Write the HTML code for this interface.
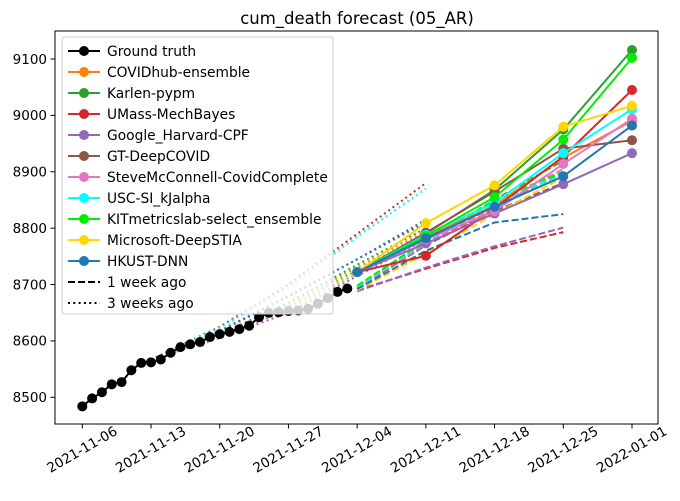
<!DOCTYPE html>
<html><head><meta charset="utf-8"><style>
body{margin:0;background:#fff}
svg text{font-family:"DejaVu Sans","Liberation Sans",sans-serif;fill:#000}
</style></head><body>
<svg id="chart" width="680" height="496" xmlns="http://www.w3.org/2000/svg">
<rect width="680" height="496" fill="#fff"/>
<text x="357" y="24" text-anchor="middle" font-size="16.5">cum_death forecast (05_AR)</text>
<g id="plot"></g>
<rect x="55" y="31" width="603" height="393" fill="none" stroke="#000" stroke-width="1"/>
<g id="axes"></g>
<g id="legend"></g>
</svg>
<script>
const xTickLabels=["2021-11-06","2021-11-13","2021-11-20","2021-11-27","2021-12-04","2021-12-11","2021-12-18","2021-12-25","2022-01-01"];
const xTickDays=[0,7,14,21,28,35,42,49,56];
const yTicks=[8500,8600,8700,8800,8900,9000,9100];
const truthValues=[8484,8498,8509,8523,8527,8548,8561,8562,8567,8579,8589,8594,8598,8607,8612,8616,8621,8627,8642,8650,8651,8653,8654,8657,8666,8676,8687,8693];
const modelNames=["COVIDhub-ensemble","Karlen-pypm","UMass-MechBayes","Google_Harvard-CPF","GT-DeepCOVID","SteveMcConnell-CovidComplete","USC-SI_kJalpha","KITmetricslab-select_ensemble","Microsoft-DeepSTIA","HKUST-DNN"];
const modelColors=["#ff7f0e","#2ca02c","#d62728","#9467bd","#8c564b","#e377c2","#00ffff","#00ee00","#ffd700","#1f77b4"];
const forecastDays=[28,35,42,49,56];
const forecastValues=[
[8722,8785,8840,8925,8990],
[8722,8790,8868,8975,9116],
[8722,8751,8835,8927,9045],
[8722,8773,8826,8878,8933],
[8722,8792,8865,8941,8956],
[8722,8780,8830,8914,8994],
[8722,8788,8845,8933,9011],
[8722,8786,8855,8957,9102],
[8722,8809,8876,8980,9017],
[8722,8782,8838,8892,8982]];
const dashDays=[28,35,42,49];
const dashValues=[
[8695,8770,8835,8900],
[8697,8775,8850,8920],
[8690,8728,8765,8793],
[8688,8730,8768,8801],
[8693,8770,8830,8880],
[8694,8772,8840,8905],
[8696,8775,8845,8895],
[8698,8778,8850,8900],
[8690,8755,8825,8890],
[8692,8760,8810,8825]];
const dotDays=[7,14,21,28,35];
const dotValues=[
[8567,8610,8665,8730,8795],
[8567,8612,8668,8735,8800],
[8567,8625,8700,8790,8880],
[8567,8605,8650,8715,8780],
[8567,8618,8680,8745,8810],
[8567,8607,8655,8720,8785],
[8567,8623,8695,8785,8870],
[8567,8610,8660,8725,8790],
[8567,8608,8658,8722,8790],
[8567,8617,8678,8745,8815]];

const NS="http://www.w3.org/2000/svg";
function X(d){return 82.3+d*(632-82.3)/56;}
function Y(v){return 397.3-(v-8500)*(397.3-59)/600;}
function mk(tag,attrs,parent){const e=document.createElementNS(NS,tag);for(const k in attrs)e.setAttribute(k,attrs[k]);parent.appendChild(e);return e;}
const plot=document.getElementById('plot'),axes=document.getElementById('axes'),leg=document.getElementById('legend');
function pts(days,vals){return days.map((d,i)=>X(d).toFixed(1)+','+Y(vals[i]).toFixed(1)).join(' ');}

modelNames.forEach((n,i)=>{
  const l=mk('polyline',{points:pts(dotDays,dotValues[i]),fill:'none',stroke:modelColors[i],'stroke-width':2,'stroke-dasharray':'2,3.3'},plot);
  
  
});
const gt=mk('polyline',{points:pts(truthValues.map((v,i)=>i),truthValues),fill:'none',stroke:'#000','stroke-width':2},plot);


truthValues.forEach((v,i)=>{
  const c=mk('circle',{cx:X(i),cy:Y(v),r:5,fill:'#000'},plot);
  
  
});
modelNames.forEach((n,i)=>{
  const l=mk('polyline',{points:pts(dashDays,dashValues[i]),fill:'none',stroke:modelColors[i],'stroke-width':2,'stroke-dasharray':'7,3'},plot);
  
  
});
modelNames.forEach((n,i)=>{
  const l=mk('polyline',{points:pts(forecastDays,forecastValues[i]),fill:'none',stroke:modelColors[i],'stroke-width':2},plot);
  
  
  forecastValues[i].forEach((v,j)=>{
    const c=mk('circle',{cx:X(forecastDays[j]),cy:Y(v),r:5,fill:modelColors[i]},plot);
    
    
  });
});
yTicks.forEach(v=>{
  const y=Y(v);
  const t=mk('line',{x1:55,x2:50.5,y1:y,y2:y,stroke:'#000'},axes);
  
  
  const tx=mk('text',{x:47,y:y+4.8,'text-anchor':'end','font-size':13.5},axes);
  tx.textContent=v;
  
  
});
xTickDays.forEach((d,i)=>{
  const x=X(d);
  const t=mk('line',{x1:x,x2:x,y1:424,y2:428.5,stroke:'#000'},axes);
  
  
  const tx=mk('text',{x:x,y:454,'text-anchor':'middle','font-size':13.5,transform:'rotate(-30 '+x+' 450)'},axes);
  tx.textContent=xTickLabels[i];
  
  
});
const lb=mk('rect',{x:62,y:37,width:271,height:277,rx:3,fill:'rgba(255,255,255,0.8)',stroke:'#ccc'},leg);


const entries=[["Ground truth","#000","solid"]].concat(modelNames.map((n,i)=>[n,modelColors[i],"solid"])).concat([["1 week ago","#000","dash"],["3 weeks ago","#000","dot"]]);
entries.forEach((e,i)=>{
  const y=51+i*21;
  const g=mk('g',{},leg);
  
  
  const attrs={x1:68,x2:100,y1:y,y2:y,stroke:e[1],'stroke-width':2};
  if(e[2]==='dash')attrs['stroke-dasharray']='7,3';
  if(e[2]==='dot')attrs['stroke-dasharray']='2,3.3';
  mk('line',attrs,g);
  if(e[2]==='solid')mk('circle',{cx:84,cy:y,r:5,fill:e[1]},g);
  const t=mk('text',{x:107,y:y+4.8,'font-size':13.8},g);
  t.textContent=e[0];
});
</script>
</body></html>
